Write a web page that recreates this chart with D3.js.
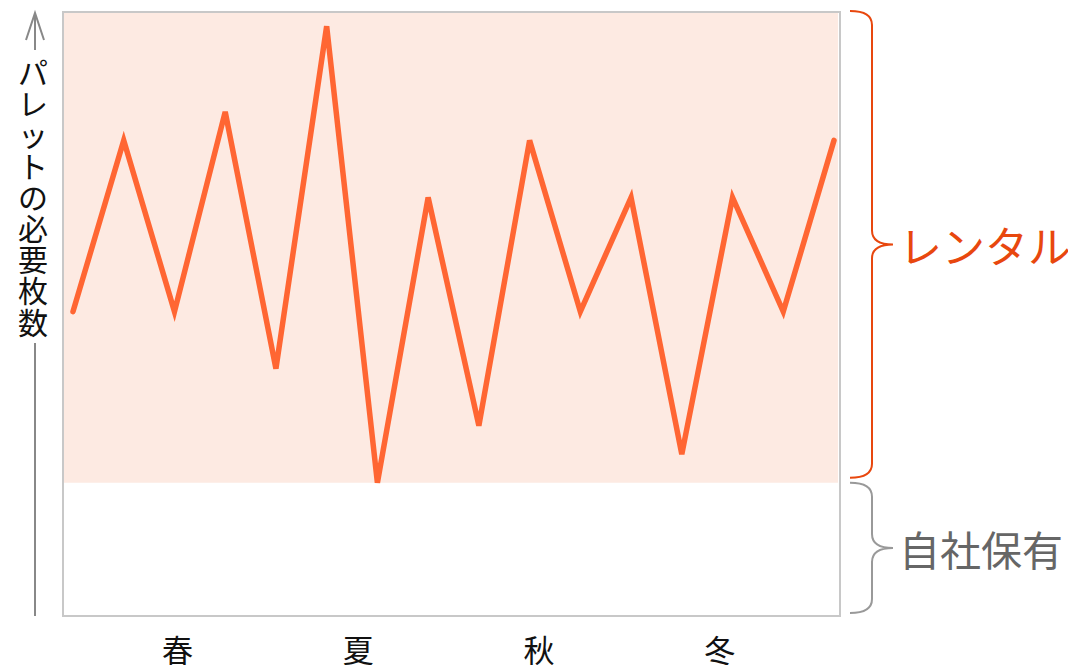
<!DOCTYPE html>
<html><head><meta charset="utf-8">
<script src="https://cdn.jsdelivr.net/npm/d3@7"></script>
<style>
html,body{margin:0;padding:0;background:#fff;}
svg{display:block;font-family:"Noto Sans CJK JP","Noto Sans",sans-serif;}
</style></head>
<body>
<svg id="chart" width="1068" height="665"></svg>
<script>
// ---- data ----
const demand = [16, 22, 16, 23, 14, 26, 10, 20, 12, 22, 16, 20, 11, 20, 16, 22];
const ownCapacity = 10;
const yDomain = [5.33, 26.5];
const seasons = ["春", "夏", "秋", "冬"];
const yTitle = "パレットの必要枚数";
const braceLabels = ["レンタル", "自社保有"];

const svg = d3.select("#chart");
const frame = {left: 63, right: 840, top: 12, bottom: 616};

const x = d3.scaleLinear().domain([0, demand.length - 1]).range([73, 834]);
const y = d3.scaleLinear().domain(yDomain).range([frame.bottom, frame.top]);
const xs = d3.scaleBand().domain(seasons).range([87, 810]);

// rental zone (above own capacity)
svg.append("rect")
  .attr("x", frame.left + 1).attr("y", y(yDomain[1]))
  .attr("width", frame.right - frame.left - 3)
  .attr("height", y(ownCapacity) - y(yDomain[1]))
  .attr("fill", "#fdeae2");

// frame
svg.append("rect")
  .attr("x", frame.left).attr("y", frame.top)
  .attr("width", frame.right - frame.left).attr("height", frame.bottom - frame.top)
  .attr("fill", "none").attr("stroke", "#c8c8c8").attr("stroke-width", 2);

// line
svg.append("path")
  .datum(demand)
  .attr("fill", "none")
  .attr("stroke", "#ff6633")
  .attr("stroke-width", 5.5)
  .attr("stroke-linecap", "round")
  .attr("d", d3.line().x((d, i) => x(i)).y(d => y(d)));

// x labels (seasons)
svg.append("g").selectAll("text").data(seasons).join("text")
  .attr("x", d => xs(d) + xs.bandwidth() / 2)
  .attr("y", 662)
  .attr("text-anchor", "middle")
  .attr("font-size", 31)
  .attr("fill", "#111")
  .text(d => d);

// y axis arrow with vertical title
const ax = 35;
const ag = svg.append("g").attr("stroke", "#888").attr("stroke-width", 2).attr("fill", "none");
ag.append("line").attr("x1", ax).attr("x2", ax).attr("y1", frame.bottom).attr("y2", 343);
ag.append("line").attr("x1", ax).attr("x2", ax).attr("y1", 50).attr("y2", 13);
ag.append("polyline").attr("points", `${ax-9},40 ${ax},13 ${ax+9},40`);

svg.append("g").selectAll("text").data(Array.from(yTitle)).join("text")
  .attr("x", 33)
  .attr("y", (d, i) => 71 + i * 31.2)
  .attr("text-anchor", "middle")
  .attr("dominant-baseline", "central")
  .attr("font-size", 30)
  .attr("fill", "#111")
  .text(d => d);

// braces
function bracePath(y0, y1) {
  const x0 = 850, x1 = 872, xt = 893, r = 14;
  const ym = (y0 + y1) / 2;
  return `M${x0},${y0} Q${x1},${y0} ${x1},${y0 + r} L${x1},${ym - r} Q${x1},${ym} ${xt},${ym}` +
         ` Q${x1},${ym} ${x1},${ym + r} L${x1},${y1 - r} Q${x1},${y1} ${x0},${y1}`;
}
const braces = [
  {y0: y(yDomain[1]) - 1, y1: y(ownCapacity) - 5, color: "#e8470e", textColor: "#e8470e", size: 43, label: braceLabels[0]},
  {y0: y(ownCapacity), y1: frame.bottom - 3, color: "#999", textColor: "#666", size: 41, label: braceLabels[1]}
];
braces.forEach(b => {
  svg.append("path").attr("d", bracePath(b.y0, b.y1))
    .attr("fill", "none").attr("stroke", b.color).attr("stroke-width", 2);
  svg.append("text")
    .attr("x", 899).attr("y", (b.y0 + b.y1) / 2)
    .attr("dominant-baseline", "central")
    .attr("font-size", b.size)
    .attr("fill", b.textColor)
    .text(b.label);
});
</script>
</body></html>
